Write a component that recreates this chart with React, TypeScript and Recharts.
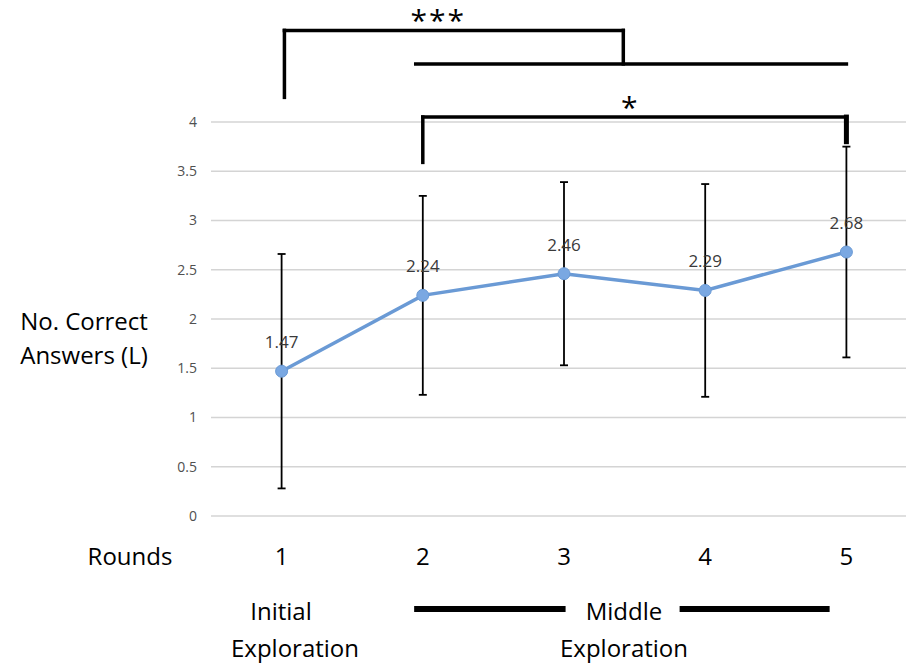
import {
  CartesianGrid,
  ErrorBar,
  LabelList,
  Line,
  LineChart,
  ReferenceDot,
  ReferenceLine,
  XAxis,
  YAxis,
} from "recharts";

const rounds = [1, 2, 3, 4, 5];
const means = [1.47, 2.24, 2.46, 2.29, 2.68];
const sds = [1.19, 1.01, 0.93, 1.08, 1.07];
const yTicks = [0, 0.5, 1, 1.5, 2, 2.5, 3, 3.5, 4];

// significance brackets, in data coordinates (round, answers)
const brackets = [
  { from: [1.02, 4.25], to: [1.02, 4.93], w: 3.5 },
  { from: [1.02, 4.93], to: [3.42, 4.93], w: 3.5 },
  { from: [3.42, 4.93], to: [3.42, 4.59], w: 3.5 },
  { from: [1.95, 4.59], to: [5.0, 4.59], w: 3.5 },
  { from: [2.0, 3.59], to: [2.0, 4.05], w: 3.5 },
  { from: [2.0, 4.05], to: [5.0, 4.05], w: 3.5 },
  { from: [5.0, 4.05], to: [5.0, 3.8], w: 5 },
  // phase bars under the axis
  { from: [1.96, -0.944], to: [2.99, -0.944], w: 6 },
  { from: [3.84, -0.944], to: [4.86, -0.944], w: 6 },
];
const stars = [
  { x: 2.11, y: 5.03, text: "***" },
  { x: 3.47, y: 4.15, text: "*" },
];

const font = '"Open Sans", sans-serif';

const rows = rounds.map((r, i) => ({ round: r, mean: means[i], sd: sds[i] }));

function Txt({ x, y, children }: { x: number; y: number; children: string }) {
  return (
    <div
      style={{
        position: "absolute",
        left: x - 100,
        top: y - 13,
        width: 200,
        lineHeight: "26px",
        textAlign: "center",
        fontSize: 24,
        fontFamily: font,
        color: "#000",
        whiteSpace: "nowrap",
      }}
    >
      {children}
    </div>
  );
}

export default function App() {
  return (
    <div
      style={{
        position: "absolute",
        left: 0,
        top: 0,
        width: 906,
        height: 664,
        overflow: "hidden",
        background: "#fff",
      }}
    >
      <LineChart
        width={917}
        height={664}
        data={rows}
        margin={{ top: 122, right: 0, left: 0, bottom: 88 }}
        style={{ fontFamily: font }}
      >
        <CartesianGrid vertical={false} stroke="#d4d4d4" strokeWidth={1.5} />
        <XAxis
          dataKey="round"
          type="number"
          domain={[0.5, 5.5]}
          ticks={rounds}
          axisLine={false}
          tickLine={false}
          tickSize={0}
          tickMargin={32}
          height={60}
          tick={{ fontSize: 24, fill: "#000" }}
        />
        <YAxis
          domain={[0, 4]}
          ticks={yTicks}
          width={211}
          axisLine={false}
          tickLine={false}
          tickSize={0}
          tickMargin={14}
          tick={{ fontSize: 14, fill: "#505050" }}
        />
        <Line
          dataKey="mean"
          stroke="#6a9ad5"
          strokeWidth={3.5}
          dot={{ r: 6, fill: "#7aa8e2", stroke: "#6a9ad5", strokeWidth: 1 }}
          activeDot={false}
          isAnimationActive={false}
        >
          <ErrorBar
            dataKey="sd"
            direction="y"
            width={4}
            stroke="#000"
            strokeWidth={1.8}
            isAnimationActive={false}
          />
          <LabelList
            dataKey="mean"
            position="top"
            offset={23}
            fill="#3a3a3a"
            fontSize={17}
          />
        </Line>
        {brackets.map((b, i) => (
          <ReferenceLine
            key={i}
            segment={[
              { x: b.from[0], y: b.from[1] },
              { x: b.to[0], y: b.to[1] },
            ]}
            stroke="#000"
            strokeWidth={b.w}
            strokeLinecap="square"
            ifOverflow="visible"
          />
        ))}
        {stars.map((s, i) => (
          <ReferenceDot
            key={i}
            x={s.x}
            y={s.y}
            r={0}
            fill="none"
            stroke="none"
            ifOverflow="visible"
            label={{
              value: s.text,
              position: "center",
              fontSize: 30,
              fill: "#000",
              letterSpacing: 2,
            }}
          />
        ))}
      </LineChart>
      <Txt x={84} y={321}>No. Correct</Txt>
      <Txt x={84} y={355}>Answers (L)</Txt>
      <Txt x={130} y={556}>Rounds</Txt>
      <Txt x={281} y={611}>Initial</Txt>
      <Txt x={295} y={648}>Exploration</Txt>
      <Txt x={624} y={611}>Middle</Txt>
      <Txt x={624} y={648}>Exploration</Txt>
    </div>
  );
}
